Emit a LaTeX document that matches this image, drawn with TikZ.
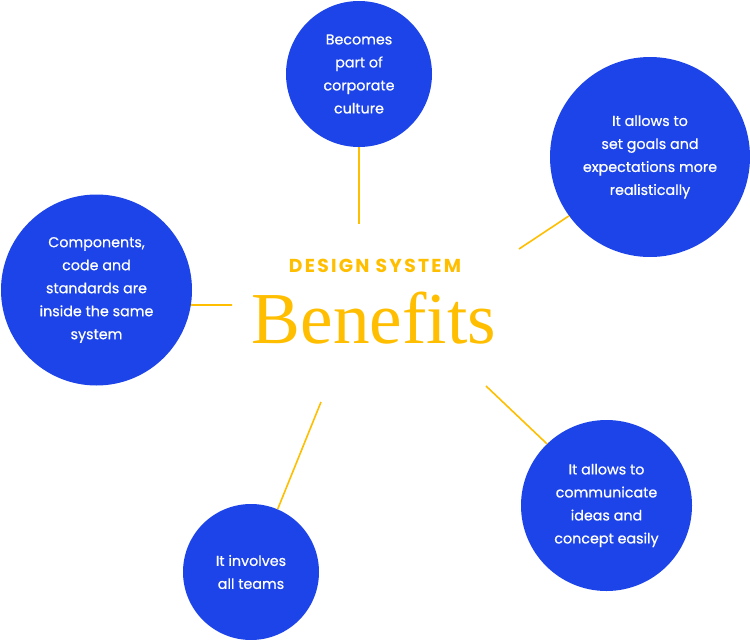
\documentclass[tikz,border=0pt]{standalone}
\usepackage{fontspec}
\setmainfont{Poppins}
\newfontfamily\bubblefont[FakeBold=0.6]{Poppins}
\newfontfamily\serifb{Liberation Serif}
\newfontfamily\tracked[LetterSpace=12]{Poppins}
\definecolor{dsblue}{HTML}{1D44E9}
\definecolor{dsyellow}{HTML}{FFBE00}
\tikzset{
  bubble/.style={circle, fill=dsblue, text=white, inner sep=0pt, align=center,
    font=\bubblefont\fontsize{14.3}{23}\selectfont},
  link/.style={draw=dsyellow, line width=1.6pt}
}
\begin{document}
\begin{tikzpicture}[x=1pt,y=-1pt]
\useasboundingbox (0,0) rectangle (750,640);
\node[bubble, minimum size=146pt] (c1) at (359,74) {Becomes\\part of\\corporate\\culture};
\node[bubble, minimum size=200pt] (c2) at (650,157) {It allows to\\set goals and\\expectations more\\realistically};
\node[bubble, minimum size=191pt] (c3) at (96.5,290) {Components,\\code and\\standards are\\inside the same\\system};
\node[bubble, minimum size=171pt] (c4) at (606.5,505.5) {It allows to\\communicate\\ideas and\\concept easily};
\node[bubble, minimum size=136pt] (c5) at (251,572) {It involves\\all teams};
\node[text=dsyellow, inner sep=0pt] (ds) at (375,265.5) {\resizebox{172pt}{!}{\tracked\bfseries DESIGN SYSTEM}};
\node[text=dsyellow, inner sep=0pt, anchor=base] (bf) at (374,343) {\resizebox{244pt}{!}{\serifb\fontsize{78}{80}\selectfont Benefits}};
\coordinate (e1) at (359,224);
\coordinate (e2) at (519,249);
\coordinate (e3) at (232,305);
\coordinate (e4) at (486,386);
\coordinate (e5) at (321,402);
\draw[link] (c1.270) -- (e1);
\draw[link] (c2.216) -- (e2);
\draw[link] (c3.-9) -- (e3);
\draw[link] (c4.134.5) -- (e4);
\draw[link] (c5.67) -- (e5);
\end{tikzpicture}
\end{document}
